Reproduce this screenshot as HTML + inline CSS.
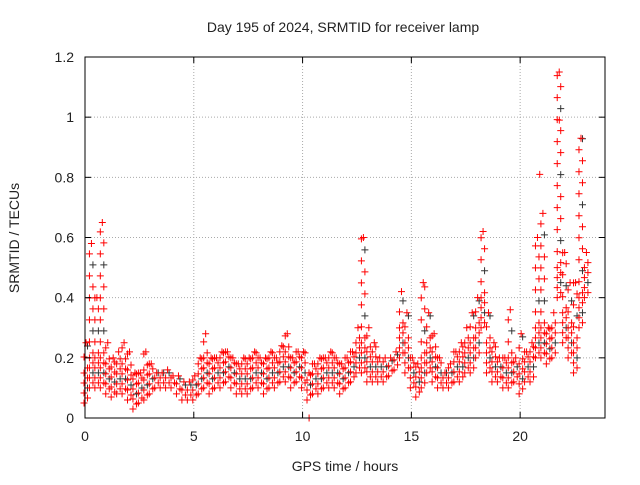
<!DOCTYPE html>
<html><head><meta charset="utf-8"><style>
body{margin:0;background:#fff;}
svg text{font-family:"Liberation Sans",sans-serif;font-size:14px;fill:#222;}
</style></head><body>
<svg id="chart" width="640" height="480">
<text x="343" y="32" text-anchor="middle">Day 195 of 2024, SRMTID for receiver lamp</text>
<g id="grid"></g>
<g id="marks"></g>
<rect x="85" y="57" width="520" height="361" fill="none" stroke="#000"/>
<g id="axes"></g>
<text x="345" y="471" text-anchor="middle">GPS time / hours</text>
<text transform="translate(19,238) rotate(-90)" text-anchor="middle">SRMTID / TECUs</text>
</svg>
<script>
const xTicks=[0,5,10,15,20];
const yTicks=[0,0.2,0.4,0.6,0.8,1,1.2];
const yTickLabels=["0","0.2","0.4","0.6","0.8","1","1.2"];
const binStep=0.25;
const lows=[0.05,0.1,0.1,0.1,0.08,0.07,0.08,0.08,0.06,0.03,0.05,0.06,0.08,0.1,0.1,0.1,0.1,0.08,0.06,0.06,0.06,0.08,0.1,0.08,0.1,0.1,0.12,0.1,0.08,0.08,0.08,0.1,0.1,0.08,0.1,0.1,0.12,0.12,0.1,0.12,0.1,0.06,0.08,0.08,0.1,0.1,0.1,0.08,0.1,0.12,0.15,0.15,0.12,0.12,0.12,0.12,0.14,0.16,0.2,0.15,0.1,0.07,0.1,0.15,0.12,0.1,0.1,0.1,0.12,0.12,0.15,0.15,0.2,0.3,0.15,0.12,0.12,0.1,0.1,0.12,0.08,0.12,0.12,0.2,0.2,0.18,0.2,0.4,0.25,0.2,0.15,0.3,0.4];
const highs=[0.25,0.58,0.4,0.65,0.25,0.2,0.22,0.25,0.22,0.15,0.15,0.22,0.18,0.15,0.15,0.16,0.14,0.14,0.12,0.12,0.14,0.2,0.28,0.2,0.2,0.22,0.22,0.2,0.18,0.2,0.2,0.22,0.2,0.2,0.22,0.2,0.24,0.28,0.2,0.22,0.22,0.15,0.18,0.2,0.2,0.22,0.2,0.18,0.2,0.22,0.3,0.6,0.3,0.25,0.2,0.2,0.2,0.22,0.42,0.35,0.2,0.18,0.45,0.35,0.28,0.2,0.15,0.18,0.22,0.25,0.3,0.35,0.4,0.62,0.35,0.25,0.2,0.2,0.36,0.2,0.28,0.22,0.25,0.6,0.68,0.3,0.35,1.15,0.55,0.45,0.45,0.93,0.55];
const outlierX=[20.9,10.3,21.8];
const outlierY=[0.81,0.0,0.99];
const X=h=>85+h*(520/23.9);
const Y=v=>418-v*(361/1.2);
const ns="http://www.w3.org/2000/svg";
const grid=document.getElementById('grid'),axes=document.getElementById('axes'),marks=document.getElementById('marks');
function mk(tag,attrs,parent){const e=document.createElementNS(ns,tag);for(const k in attrs)e.setAttribute(k,attrs[k]);parent.appendChild(e);return e;}
xTicks.forEach(t=>{
 const g=mk('line',{x1:X(t),x2:X(t),y1:57,y2:418,stroke:'#aaa','stroke-dasharray':'1,2'},grid);
 
 
 mk('line',{x1:X(t),x2:X(t),y1:418,y2:412,stroke:'#000'},axes);
 mk('line',{x1:X(t),x2:X(t),y1:57,y2:63,stroke:'#000'},axes);
 const tx=mk('text',{x:X(t),y:441,'text-anchor':'middle'},axes);tx.textContent=t;
 
 
});
yTicks.forEach((t,i)=>{
 const g=mk('line',{x1:85,x2:605,y1:Y(t),y2:Y(t),stroke:'#aaa','stroke-dasharray':'1,2'},grid);
 
 
 mk('line',{x1:85,x2:91,y1:Y(t),y2:Y(t),stroke:'#000'},axes);
 mk('line',{x1:599,x2:605,y1:Y(t),y2:Y(t),stroke:'#000'},axes);
 const tx=mk('text',{x:74,y:Y(t)+5,'text-anchor':'end'},axes);tx.textContent=yTickLabels[i];
 
 
});
function plus(cx,cy,col){
 return mk('path',{d:`M${cx-3.5} ${cy}h7M${cx} ${cy-3.5}v7`,stroke:col,'stroke-width':1},marks);
}
lows.forEach((lo,i)=>{
 const hi=highs[i];const x=X(i*binStep);
 const y1=Y(hi),y0=Y(lo);
 let k=0,y=y0;
 while(y>=y1-0.1){
  const p=plus(x+(k%2?2.5:-1),y,(k%6==3)?'#333':'red');
  
  
  y-=(y0-y<35)?5:11;
  k++;
 }
 const p=plus(x+1,y1,'red');
 
 
});
outlierX.forEach((h,i)=>{
 const p=plus(X(h),Y(outlierY[i]),'red');
 
 
});
</script>
</body></html>
